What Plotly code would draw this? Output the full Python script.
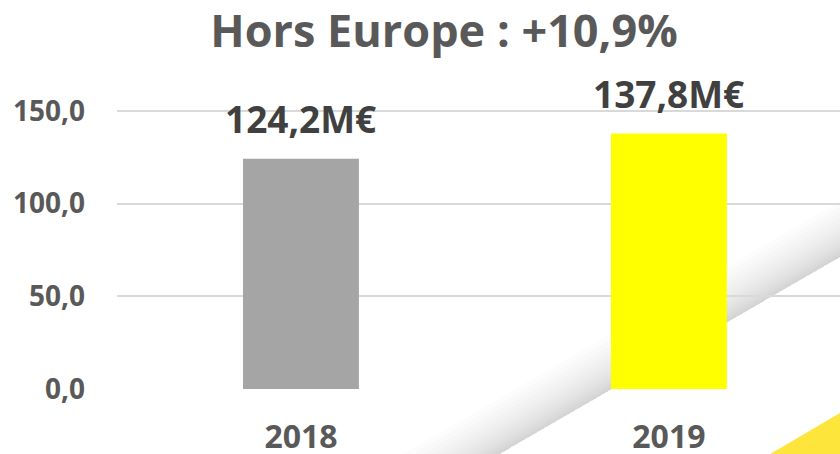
import plotly.graph_objects as go

categories = ["2018", "2019"]
values = [124.2, 137.8]
labels = ["124,2M€", "137,8M€"]
bar_colors = ["#A5A5A5", "#FFFF00"]
tick_vals = [0, 50, 100, 150]
tick_text = ["0,0", "50,0", "100,0", "150,0"]
title_text = "Hors Europe : +10,9%"

W, H = 840, 454
L, R, T, B = 117, 0, 60, 65
pw, ph = W - L - R, H - T - B

def px(x):
    return (x - L) / pw

def py(y):
    return (H - B - y) / ph

FONT = "Open Sans"

fig = go.Figure()
fig.add_trace(go.Bar(
    x=categories, y=values, marker=dict(color=bar_colors, line=dict(width=0)),
    width=0.315, hoverinfo="skip",
))

for i, (v, t) in enumerate(zip(values, labels)):
    fig.add_annotation(x=i, y=v, xref="x", yref="y", text=t, showarrow=False,
                       yanchor="bottom", yshift=13,
                       font=dict(family=FONT, size=37, color="#404040", weight="bold"))

shapes = []
# decorative page-curl shadow (edge line with a soft gradient above it)
x0, x1 = 360, 860
y0 = 454 + (500 - x0) * 0.579
y1 = 454 + (500 - x1) * 0.579
n = 15
for k in range(1, n + 1):
    d = 1.5 * k + 0.15 * k * k
    path = (f"M {px(x0)} {py(y0)} L {px(x1)} {py(y1)} "
            f"L {px(x1)} {py(y1 - d)} L {px(x0)} {py(y0 - d)} Z")
    shapes.append(dict(type="path", path=path, xref="paper", yref="paper",
                       fillcolor="rgba(0,0,0,0.013)", line=dict(width=0), layer="below"))
# yellow corner triangle
path = f"M {px(760)} {py(460)} L {px(850)} {py(407)} L {px(850)} {py(460)} Z"
shapes.append(dict(type="path", path=path, xref="paper", yref="paper",
                   fillcolor="#FDE53C", line=dict(width=0), layer="below"))

fig.update_layout(
    width=W, height=H,
    margin=dict(l=L, r=R, t=T, b=B, autoexpand=False),
    paper_bgcolor="white", plot_bgcolor="rgba(0,0,0,0)",
    showlegend=False,
    shapes=shapes,
    title=dict(text=title_text, x=444 / W, xref="container", xanchor="center",
               y=1 - 31 / H, yref="container", yanchor="middle",
               font=dict(family=FONT, size=45, color="#595959", weight="bold")),
    xaxis=dict(type="category", range=[-0.5, 1.465], showgrid=False, zeroline=False,
               showline=False, ticks="", ticklabelstandoff=26, automargin=False,
               tickfont=dict(family=FONT, size=32, color="#595959", weight="bold")),
    yaxis=dict(range=[0, 177.5], tickvals=tick_vals, ticktext=tick_text,
               showgrid=True, gridcolor="#D9D9D9", gridwidth=2, zeroline=False,
               showline=False, ticks="", ticklabelstandoff=31, automargin=False,
               tickfont=dict(family=FONT, size=28, color="#595959", weight="bold")),
)

fig.write_html("out.html", config={"displayModeBar": False},
               post_script="document.body.style.margin='0';document.body.style.overflow='hidden';")
